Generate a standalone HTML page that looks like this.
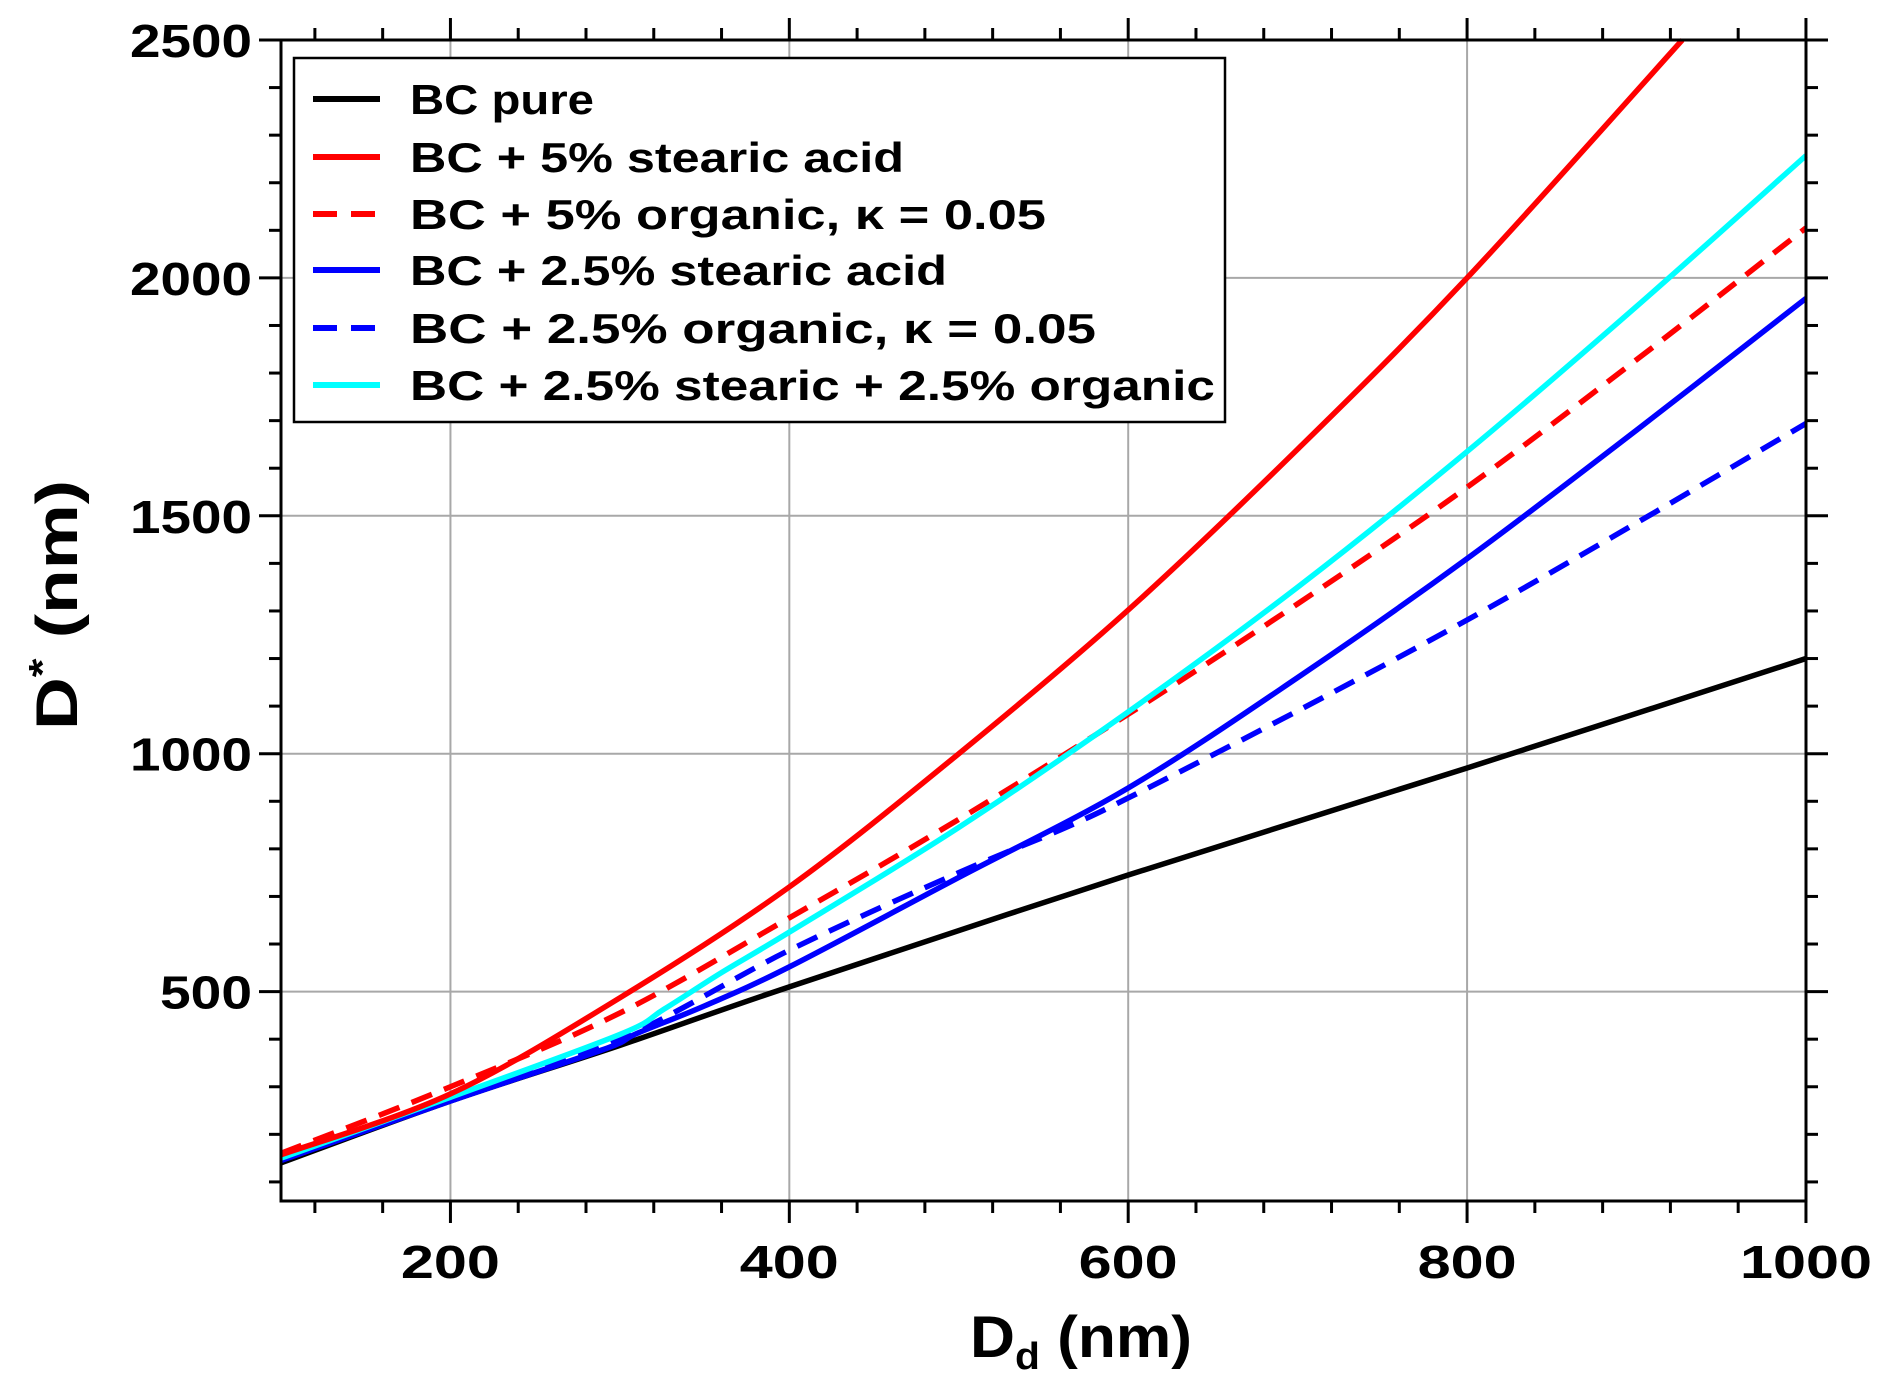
<!DOCTYPE html>
<html><head><meta charset="utf-8"><style>
html,body{margin:0;padding:0;background:#fff}
svg text{font-family:"Liberation Sans",sans-serif;font-weight:bold;fill:#000}
</style></head><body>
<svg id="s" width="1892" height="1384" viewBox="0 0 1892 1384" xmlns="http://www.w3.org/2000/svg">
<g id="grid" stroke="#a8a8a8" stroke-width="2"></g>
<g id="curves" fill="none" stroke-width="5.5" stroke-linejoin="round"></g>
<g id="axes" stroke="#000" stroke-width="3" fill="none"></g>
<g id="labels" font-size="46"></g>
<rect x="294" y="58" width="931" height="364" fill="#fff" stroke="#000" stroke-width="2.5"/>
<g stroke-width="6">
<line x1="313" y1="99" x2="380" y2="99" stroke="#000"/>
<line x1="313" y1="157" x2="380" y2="157" stroke="#f00"/>
<line x1="313" y1="214" x2="380" y2="214" stroke="#f00" stroke-dasharray="24,14"/>
<line x1="313" y1="270" x2="380" y2="270" stroke="#00f"/>
<line x1="313" y1="328" x2="380" y2="328" stroke="#00f" stroke-dasharray="24,14"/>
<line x1="313" y1="385" x2="380" y2="385" stroke="#0ff"/>
</g>
<g font-size="42">
<text x="410" y="114" textLength="184" lengthAdjust="spacingAndGlyphs">BC pure</text>
<text x="410" y="172" textLength="494" lengthAdjust="spacingAndGlyphs">BC + 5% stearic acid</text>
<text x="410" y="229" textLength="636" lengthAdjust="spacingAndGlyphs">BC + 5% organic, κ = 0.05</text>
<text x="410" y="285" textLength="537" lengthAdjust="spacingAndGlyphs">BC + 2.5% stearic acid</text>
<text x="410" y="343" textLength="686" lengthAdjust="spacingAndGlyphs">BC + 2.5% organic, κ = 0.05</text>
<text x="410" y="400" textLength="805" lengthAdjust="spacingAndGlyphs">BC + 2.5% stearic + 2.5% organic</text>
</g>
<text transform="translate(77,605) rotate(-90)" text-anchor="middle" font-size="58" textLength="250" lengthAdjust="spacingAndGlyphs">D<tspan font-size="38" dy="-22">*</tspan><tspan dy="22"> (nm)</tspan></text>
<text x="970" y="1357" font-size="58" textLength="222" lengthAdjust="spacingAndGlyphs">D<tspan font-size="38" dy="12">d</tspan><tspan dy="-12"> (nm)</tspan></text>
</svg>
<script>
const X=v=>281+(v-100)*1.6944, Y=v=>40+(2500-v)*0.4758;
const ns="http://www.w3.org/2000/svg";
function el(p,t,a,txt){const e=document.createElementNS(ns,t);for(const k in a)e.setAttribute(k,a[k]);if(txt)e.textContent=txt;document.getElementById(p).appendChild(e);return e;}
[200,400,600,800].forEach(v=>el("grid","line",{x1:X(v),x2:X(v),y1:40,y2:1201}));
[500,1000,1500,2000].forEach(v=>el("grid","line",{x1:281,x2:1806,y1:Y(v),y2:Y(v)}));
function cr(pts){let d="M"+pts[0][0]+","+pts[0][1];for(let i=0;i<pts.length-1;i++){const p0=pts[Math.max(0,i-1)],p1=pts[i],p2=pts[i+1],p3=pts[Math.min(pts.length-1,i+2)];
const c1=[p1[0]+(p2[0]-p0[0])/6,p1[1]+(p2[1]-p0[1])/6],c2=[p2[0]-(p3[0]-p1[0])/6,p2[1]-(p3[1]-p1[1])/6];d+=" C"+c1+" "+c2+" "+p2;}return d;}
function curve(data,col,dash){const pts=data.map(([a,b])=>[X(a),Y(b)]);const a={d:cr(pts),stroke:col};if(dash)a["stroke-dasharray"]="22,13";el("curves","path",a);}
curve([[100,140],[200,270],[300,387],[400,510],[600,745],[800,970],[1000,1200]],"#000");
curve([[100,148],[200,278],[300,400],[400,587],[500,750],[560,840],[600,907],[700,1090],[800,1281],[900,1485],[1000,1694]],"#00f",1);
curve([[100,145],[200,270],[290,378],[310,412],[350,470],[400,552],[500,740],[600,928],[700,1160],[800,1410],[900,1680],[1000,1957]],"#00f");
curve([[100,160],[200,300],[300,455],[400,655],[500,862],[600,1083],[700,1315],[800,1560],[900,1828],[1000,2105]],"#f00",1);
curve([[100,150],[200,278],[300,410],[326,463],[360,540],[400,625],[500,845],[600,1088],[700,1350],[800,1635],[900,1940],[1000,2257]],"#0ff");
curve([[100,157],[200,285],[300,487],[400,720],[500,1000],[600,1302],[700,1640],[800,2000],[927,2500]],"#f00");
el("axes","rect",{x:281,y:40,width:1525,height:1161});
for(let v=120;v<=1000;v+=40){const M=v%200==0,L=M?22:12;el("axes","line",{x1:X(v),x2:X(v),y1:1201,y2:1201+L});el("axes","line",{x1:X(v),x2:X(v),y1:40,y2:40-L});
if(M){const s=String(v);el("labels","text",{x:X(v),y:1278,"text-anchor":"middle",textLength:s.length==4?132:99,lengthAdjust:"spacingAndGlyphs"},s);}}
for(let v=100;v<=2500;v+=100){const M=v%500==0,L=M?22:12;el("axes","line",{x1:281,x2:281-L,y1:Y(v),y2:Y(v)});el("axes","line",{x1:1806,x2:1806+L,y1:Y(v),y2:Y(v)});
if(M){const s=String(v);el("labels","text",{x:252,y:Y(v)+17,"text-anchor":"end",textLength:s.length==4?122:92,lengthAdjust:"spacingAndGlyphs"},s);}}
</script>
</body></html>
